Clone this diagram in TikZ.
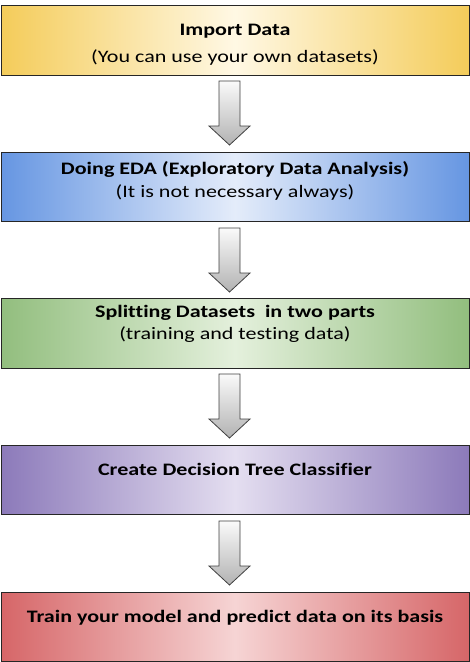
\documentclass[tikz,border=0pt]{standalone}
\usepackage{fontspec}
\setmainfont[FakeStretch=1.26,Ligatures=NoCommon]{Carlito}
\definecolor{yedge}{RGB}{244,204,90}
\definecolor{ymid}{RGB}{255,248,228}
\definecolor{bedge}{RGB}{102,150,226}
\definecolor{bmid}{RGB}{228,236,250}
\definecolor{gedge}{RGB}{146,190,126}
\definecolor{gmid}{RGB}{228,240,220}
\definecolor{pedge}{RGB}{140,122,186}
\definecolor{pmid}{RGB}{228,222,240}
\definecolor{redge}{RGB}{214,102,104}
\definecolor{rmid}{RGB}{246,212,212}
\definecolor{arrtop}{RGB}{250,250,250}
\definecolor{arrbot}{RGB}{178,178,178}
\tikzset{
  stagebox/.style={draw=black!85, line width=0.9pt, minimum width=468pt, minimum height=70pt,
    anchor=north west, inner sep=0pt, outer sep=0pt},
  titletext/.style={anchor=base, inner sep=0pt, font=\fontsize{17.5}{20}\selectfont\bfseries},
  subtext/.style={anchor=base, inner sep=0pt, font=\fontsize{17.5}{20}\selectfont},
  blockarrow/.style={draw=black!75, line width=0.8pt, top color=arrtop, bottom color=arrbot},
  pics/downarrow/.style={code={
    \path[blockarrow] (-10.5,0) -- (10.5,0) -- (10.5,45) -- (20.5,45) -- (0,64) -- (-20.5,45) -- (-10.5,45) -- cycle;
  }}
}
\begin{document}
\begin{tikzpicture}[x=1pt,y=-1pt]
\useasboundingbox (0,0) rectangle (470,662);
\node[stagebox, left color=yedge, right color=yedge, middle color=ymid] (b1) at (1,5) {};
\node[stagebox, minimum height=69pt, left color=bedge, right color=bedge, middle color=bmid] (b2) at (1,152) {};
\node[stagebox, left color=gedge, right color=gedge, middle color=gmid] (b3) at (1,298) {};
\node[stagebox, minimum height=69pt, left color=pedge, right color=pedge, middle color=pmid] (b4) at (1,445) {};
\node[stagebox, minimum height=69pt, left color=redge, right color=redge, middle color=rmid] (b5) at (1,592) {};

\node[titletext] (t1) at (235,35) {Import Data};
\node[subtext] (s1) at (235,62) {(You can use your own datasets)};
\node[titletext] (t2) at (235,174) {Doing EDA (Exploratory Data Analysis)};
\node[subtext] (s2) at (235,197) {(It is not necessary always)};
\node[titletext] (t3) at (235,317) {Splitting Datasets\ \ in two parts};
\node[subtext] (s3) at (235,339) {(training and testing data)};
\node[titletext] (t4) at (235,475) {Create Decision Tree Classifier};
\node[titletext] (t5) at (235,622) {Train your model and predict data on its basis};

\pic at (229.5,81) {downarrow};
\pic at (229.5,228) {downarrow};
\pic at (229.5,374) {downarrow};
\pic at (229.5,521) {downarrow};
\end{tikzpicture}
\end{document}
